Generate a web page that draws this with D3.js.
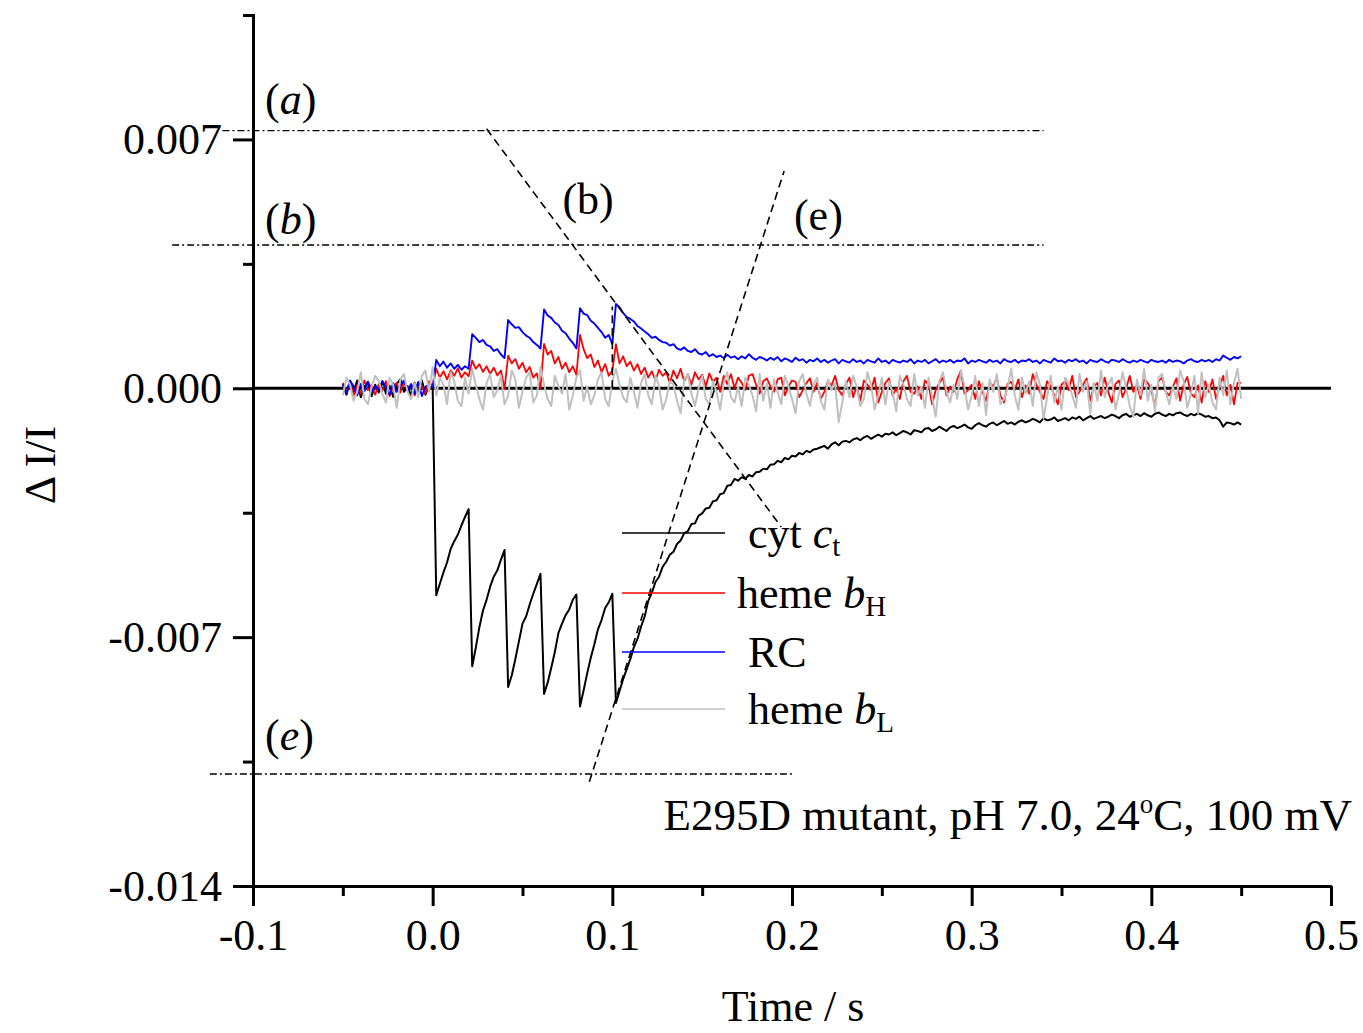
<!DOCTYPE html>
<html>
<head>
<meta charset="utf-8">
<script src="https://cdn.jsdelivr.net/npm/d3@7"></script>
<style>
  body { margin: 0; background: #fff; }
  svg { display: block; }
  text { font-family: "Liberation Serif", "Times New Roman", serif; }
</style>
</head>
<body>
<div id="chart"></div>
<script>
// Traces: time grid in ms, values in units of 1e-3 (ΔI/I)
const T0 = -50, DT = 2;

const cytC = [
  0.12, -0.18, 0.2, -0.08, 0.22, -0.25, 0.05, 0.18, -0.22, 0.1,
  -0.12, 0.2, -0.15, 0.08, -0.24, 0.12, 0.26, -0.1, 0.06, -0.2,
  0.16, -0.1, 0.22, -0.18, 0.1, 0.0, -5.82, -5.5, -5.18, -4.9,
  -4.52, -4.3, -4.12, -3.86, -3.62, -3.4, -7.82, -7.3, -6.72, -6.25,
  -5.95, -5.58, -5.3, -5.12, -4.82, -4.55, -8.4, -8.08, -7.62, -7.12,
  -6.62, -6.42, -6.08, -5.78, -5.5, -5.22, -8.6, -8.28, -7.86, -7.42,
  -6.88, -6.62, -6.38, -6.22, -5.95, -5.8, -8.95, -8.5, -8.02, -7.58,
  -7.2, -6.78, -6.52, -6.18, -6.02, -5.78, -8.85, -8.52, -8.18, -7.9,
  -7.62, -7.28, -7.05, -6.7, -6.42, -5.98, -5.75, -5.45, -5.3, -5.02,
  -4.88, -4.68, -4.6, -4.38, -4.28, -4.08, -4.02, -3.82, -3.8, -3.58,
  -3.52, -3.38, -3.36, -3.18, -3.15, -2.98, -2.95, -2.74, -2.72, -2.55,
  -2.6, -2.5, -2.55, -2.44, -2.48, -2.36, -2.35, -2.26, -2.28, -2.15,
  -2.14, -2.04, -2.08, -1.96, -2.0, -1.9, -1.92, -1.82, -1.86, -1.76,
  -1.8, -1.72, -1.7, -1.66, -1.62, -1.7, -1.58, -1.52, -1.6, -1.5,
  -1.48, -1.52, -1.44, -1.4, -1.46, -1.38, -1.34, -1.42, -1.36, -1.3,
  -1.36, -1.28, -1.3, -1.24, -1.32, -1.26, -1.2, -1.24, -1.3, -1.18,
  -1.2, -1.24, -1.14, -1.12, -1.2, -1.16, -1.08, -1.14, -1.2, -1.1,
  -1.06, -1.12, -1.08, -1.02, -1.1, -1.14, -1.04, -0.98, -1.04, -1.08,
  -1.0, -0.96, -1.04, -0.98, -0.92, -1.0, -0.96, -1.02, -0.94, -0.9,
  -0.96, -0.92, -0.86, -0.9, -0.96, -0.84, -0.9, -0.88, -0.82, -0.92,
  -0.88, -0.84, -0.9, -0.82, -0.86, -0.8, -0.9, -0.84, -0.78, -0.86,
  -0.82, -0.78, -0.84, -0.8, -0.74, -0.78, -0.84, -0.76, -0.72, -0.8,
  -0.76, -0.72, -0.78, -0.7, -0.76, -0.8, -0.72, -0.68, -0.74, -0.78,
  -0.72, -0.76, -0.7, -0.68, -0.74, -0.78, -0.72, -0.76, -0.7, -0.74,
  -0.8, -0.78, -0.84, -0.82, -0.9, -1.08, -0.96, -0.98, -1.02, -0.96,
  -1.02
];

const hemeBH = [
  0.15, -0.1, 0.2, -0.2, 0.08, -0.15, 0.22, -0.05, 0.1, -0.18,
  0.12, -0.08, 0.2, -0.22, 0.05, 0.15, -0.12, 0.18, -0.05, 0.1,
  -0.2, 0.12, 0.05, -0.15, 0.2, 0.05, 0.55, 0.3, 0.48, 0.25,
  0.5, 0.35, 0.56, 0.3, 0.45, 0.34, 0.78, 0.55, 0.68, 0.46,
  0.62, 0.4, 0.58, 0.36, 0.5, -0.02, 0.92, 0.7, 0.82, 0.55,
  0.72, 0.45, 0.6, 0.3, 0.42, 0.0, 1.25, 0.95, 1.05, 0.7,
  0.88, 0.55, 0.72, 0.45, 0.62, 0.38, 1.5, 1.1, 0.85, 0.95,
  0.6, 0.78, 0.45, 0.68, 0.35, 0.5, 1.24, 0.7, 0.9, 0.62,
  0.75, 0.5, 0.68, 0.4, 0.58, 0.3, 0.48, 0.22, 0.52, 0.35,
  0.45, 0.15, 0.5, 0.28, 0.55, 0.2, 0.4, 0.1, 0.45, 0.25,
  0.38, 0.05, 0.42, 0.18, 0.3, -0.1, 0.35, 0.12, 0.4, 0.0,
  0.3, 0.15, -0.05, 0.35, 0.4, 0.1, -0.15, 0.2, 0.28, 0.05,
  -0.1, 0.25, 0.3, -0.2, 0.05, 0.22, 0.18, -0.25, -0.05, 0.15,
  0.28, -0.1, 0.15, -0.3, -0.1, 0.2, 0.08, 0.35, -0.05, -0.2,
  0.12, 0.3, -0.25, 0.05, -0.35, 0.22, 0.1, -0.05, 0.3, -0.4,
  -0.1, 0.15, 0.28, -0.2, 0.0, -0.3, 0.2, 0.35, -0.1, -0.15,
  0.05, -0.3, 0.22, 0.1, -0.45, -0.05, 0.15, 0.3, -0.2, 0.05,
  -0.1, 0.25, 0.5, -0.15, -0.05, 0.1, -0.3, 0.2, -0.1, -0.35,
  0.15, 0.05, 0.3, -0.2, -0.4, 0.12, 0.18, -0.05, 0.25, -0.25,
  0.08, -0.15, 0.4, 0.1, -0.1, -0.3, 0.2, 0.05, -0.2, -0.45,
  0.1, 0.2, -0.05, 0.35, -0.25, -0.1, 0.1, 0.28, -0.35, 0.05,
  0.15, -0.2, 0.3, -0.1, -0.4, 0.12, 0.22, -0.25, 0.0, 0.35,
  -0.1, 0.1, -0.3, 0.25, 0.15, -0.05, -0.5, 0.2, 0.3, -0.1,
  -0.2, 0.05, 0.28, -0.35, 0.1, 0.32, -0.15, -0.25, 0.08, -0.4,
  0.2, -0.1, 0.25, -0.3, 0.05, 0.35, -0.2, 0.1, -0.45, 0.15,
  0.15
];

const rc = [
  0.1, -0.15, 0.22, 0.05, -0.2, 0.12, -0.08, 0.18, -0.12, 0.06,
  -0.05, 0.2, 0.02, -0.18, 0.15, -0.1, 0.08, 0.22, -0.06, 0.12,
  -0.15, 0.18, -0.22, 0.05, 0.1, 0.02, 0.8, 0.62, 0.75, 0.58,
  0.7, 0.55, 0.66, 0.52, 0.62, 0.55, 1.52, 1.42, 1.3, 1.36,
  1.22, 1.18, 1.05, 1.1, 0.95, 0.85, 1.92, 1.8, 1.7, 1.72,
  1.58, 1.48, 1.42, 1.3, 1.22, 1.12, 2.22, 2.05, 1.98, 1.85,
  1.78, 1.62, 1.55, 1.4, 1.28, 1.12, 2.25, 2.1, 2.06, 1.9,
  1.82, 1.7, 1.58, 1.42, 1.5, 1.24, 2.37, 2.28, 2.12, 2.0,
  1.95, 1.88, 1.75, 1.68, 1.6, 1.52, 1.42, 1.45, 1.36, 1.3,
  1.28, 1.2, 1.24, 1.12, 1.08, 1.15, 1.05, 1.02, 1.1, 0.98,
  0.95, 1.02, 0.9, 0.96, 0.88, 0.92, 0.85, 0.94, 0.86, 0.9,
  0.82, 0.9, 0.84, 0.96, 0.86, 0.8, 0.88, 0.84, 0.78, 0.86,
  0.8, 0.88, 0.76, 0.84, 0.8, 0.74, 0.86, 0.78, 0.82, 0.72,
  0.8, 0.76, 0.84, 0.74, 0.8, 0.72, 0.78, 0.82, 0.7, 0.8,
  0.76, 0.72, 0.82, 0.74, 0.78, 0.7, 0.8, 0.76, 0.72, 0.84,
  0.74, 0.78, 0.7, 0.8, 0.76, 0.72, 0.78, 0.74, 0.82, 0.7,
  0.78, 0.74, 0.8, 0.7, 0.76, 0.82, 0.72, 0.78, 0.74, 0.8,
  0.72, 0.78, 0.76, 0.84, 0.7, 0.78, 0.74, 0.8, 0.76, 0.72,
  0.8, 0.74, 0.78, 0.7, 0.82, 0.76, 0.74, 0.8, 0.72, 0.78,
  0.76, 0.82, 0.74, 0.78, 0.7, 0.8, 0.76, 0.72, 0.84, 0.76,
  0.78, 0.72, 0.8, 0.76, 0.82, 0.74, 0.78, 0.7, 0.8, 0.76,
  0.74, 0.82, 0.76, 0.72, 0.8, 0.78, 0.74, 0.82, 0.76, 0.72,
  0.78, 0.74, 0.8, 0.76, 0.72, 0.8, 0.76, 0.74, 0.78, 0.72,
  0.8, 0.74, 0.78, 0.76, 0.7, 0.78, 0.82, 0.76, 0.74, 0.8,
  0.76, 0.8, 0.74, 0.82, 0.78, 0.92, 0.86, 0.8, 0.88, 0.84,
  0.9
];

const hemeBL = [
  -0.2, 0.3, 0.1, -0.35, -0.1, 0.45, -0.3, -0.45, 0.05, 0.35,
  0.2, -0.15, -0.4, 0.3, 0.1, -0.55, 0.25, 0.4, -0.1, -0.3,
  0.15, -0.25, 0.35, 0.5, -0.1, 0.6, -0.2, 0.3, 0.1, -0.45,
  0.45, 0.2, -0.35, -0.5, 0.3, -0.15, 0.55, 0.1, -0.3, -0.6,
  0.15, 0.4, -0.25, -0.05, 0.35, -0.45, -0.2, 0.5, 0.25, -0.55,
  -0.1, 0.3, 0.45, -0.4, -0.2, 0.6, 0.1, -0.3, -0.5, 0.35,
  0.05, -0.15, 0.4, -0.6, -0.2, 0.3, 0.5, -0.35, 0.05, -0.45,
  -0.2, 0.25, 0.45, -0.3, -0.5, 0.2, 0.55, 0.1, -0.25, -0.4,
  0.3, -0.1, -0.55, 0.15, 0.4, -0.2, -0.45, 0.35, 0.05, -0.6,
  -0.3, 0.2, 0.1, -0.35, -0.7, 0.25, 0.4, -0.15, -0.5, 0.0,
  0.35, -0.3, -0.45, 0.2, -0.1, -0.6, 0.15, 0.45, -0.25, -0.4,
  0.05, -0.5, 0.3, 0.1, -0.2, -0.65, 0.4, -0.35, 0.15, -0.55,
  0.25, -0.1, -0.45, 0.35, 0.05, -0.3, -0.7, 0.2, 0.4, -0.15,
  -0.5, 0.1, 0.3, -0.35, -0.6, 0.25, -0.05, 0.15, -0.95, -0.4,
  0.2, -0.25, 0.35, 0.05, -0.5, -0.3, 0.45, 0.1, -0.6, -0.2,
  0.3, -0.45, 0.2, -0.1, -0.65, 0.35, 0.1, -0.3, -0.5, 0.4,
  -0.2, 0.05, -0.55, 0.3, -0.25, -0.8, 0.2, 0.45, -0.1, -0.4,
  0.1, -0.3, 0.5, 0.05, -0.6, -0.2, 0.35, -0.5, 0.15, -0.75,
  0.25, -0.1, 0.4, -0.45, -0.3, 0.0, 0.55, -0.2, -0.6, 0.3,
  -0.15, 0.2, -0.5, 0.45, 0.1, -0.85, -0.25, 0.35, -0.4, 0.05,
  -0.6, 0.3, 0.15, -0.2, -0.55, 0.4, -0.1, 0.2, -0.7, 0.15,
  -0.35, 0.5, -0.25, 0.1, 0.3, -0.6, -0.15, 0.45, 0.0, -0.5,
  -0.8, 0.25, -0.2, 0.55, -0.35, 0.1, -0.65, 0.3, 0.4, -0.1,
  -0.45, 0.05, -0.3, 0.5, 0.2, -0.55, -0.15, 0.35, -0.7, 0.45,
  -0.25, 0.1, -0.4, -0.6, 0.3, -0.2, 0.5, -0.45, 0.15, 0.55,
  -0.3
];

// Axis ticks
const xTicks = [-0.1, 0.0, 0.1, 0.2, 0.3, 0.4, 0.5];
const xMinor = [-0.05, 0.05, 0.15, 0.25, 0.35, 0.45];
const yTicks = [-0.014, -0.007, 0.0, 0.007];
const yMinor = [-0.0105, -0.0035, 0.0035];

// Guide levels (dash-dot): [label, level, t start, t end]
const levels = [
  ["a", 0.00725, -0.117, 0.34],
  ["b", 0.00403, -0.145, 0.34],
  ["e", -0.01085, -0.124, 0.20]
];
// Dashed fit lines: [t1, v1, t2, v2]
const fitB = [0.030, 0.0073, 0.194, -0.0039];
const fitE = [0.0872, -0.01107, 0.1956, 0.00611];
const flashMark = [0.1, 0.0, 0.1, 0.0023];

const series = [
  { name: "cyt", values: cytC, color: "#000000", width: 2 },
  { name: "bH", values: hemeBH, color: "#ff0000", width: 1.8 },
  { name: "RC", values: rc, color: "#0000ff", width: 1.9 },
  { name: "bL", values: hemeBL, color: "#c0c0c0", width: 2 }
];

const W = 1363, H = 1033;
const FONT = 44;

const svg = d3.select("#chart").append("svg")
  .attr("width", W).attr("height", H);

const x = d3.scaleLinear().domain([-0.1, 0.5]).range([253, 1331]);
const y = d3.scaleLinear().domain([-0.014, 0.0105]).range([886, 15]);

// zero reference line
svg.append("line")
  .attr("x1", x(-0.1)).attr("x2", x(0.5))
  .attr("y1", y(0)).attr("y2", y(0))
  .attr("stroke", "#000").attr("stroke-width", 3);

// traces
const line = d3.line()
  .x((d, i) => x((T0 + i * DT) / 1000))
  .y(d => y(d / 1000));

svg.append("g").selectAll("path")
  .data(series)
  .join("path")
  .attr("d", d => line(d.values))
  .attr("fill", "none")
  .attr("stroke", d => d.color)
  .attr("stroke-width", d => d.width)
  .attr("stroke-linejoin", "round");

// dash-dot levels
svg.append("g").selectAll("line")
  .data(levels)
  .join("line")
  .attr("x1", d => x(d[2])).attr("x2", d => x(d[3]))
  .attr("y1", d => y(d[1])).attr("y2", d => y(d[1]))
  .attr("stroke", "#000").attr("stroke-width", 1.3)
  .attr("stroke-dasharray", "7,3,2,3");

// dashed fit lines
svg.append("g").selectAll("line")
  .data([fitB, fitE, flashMark])
  .join("line")
  .attr("x1", d => x(d[0])).attr("y1", d => y(d[1]))
  .attr("x2", d => x(d[2])).attr("y2", d => y(d[3]))
  .attr("stroke", "#000").attr("stroke-width", 1.6)
  .attr("stroke-dasharray", "8,5");

// axes
function styleAxis(g) {
  g.attr("font-size", FONT).attr("font-family", "'Liberation Serif','Times New Roman',serif");
  g.selectAll("path.domain").attr("stroke-width", 3);
  g.selectAll(".tick line").attr("stroke-width", 3);
  g.selectAll(".tick text").attr("fill", "#000");
}

svg.append("g")
  .attr("transform", `translate(0,${y(-0.014)})`)
  .call(d3.axisBottom(x).tickValues(xMinor).tickSize(10).tickSizeOuter(0).tickFormat(""))
  .call(styleAxis);
svg.append("g")
  .attr("transform", `translate(0,${y(-0.014)})`)
  .call(d3.axisBottom(x).tickValues(xTicks).tickSize(20).tickSizeOuter(0).tickPadding(13)
    .tickFormat(d => d.toFixed(1)))
  .call(styleAxis);

svg.append("g")
  .attr("transform", `translate(${x(-0.1)},0)`)
  .call(d3.axisLeft(y).tickValues(yMinor).tickSize(10).tickSizeOuter(10).tickFormat(""))
  .call(styleAxis);
svg.append("g")
  .attr("transform", `translate(${x(-0.1)},0)`)
  .call(d3.axisLeft(y).tickValues(yTicks).tickSize(20).tickSizeOuter(0).tickPadding(11)
    .tickFormat(d => d.toFixed(3)))
  .call(styleAxis)
  .call(g => g.select("path.domain").remove());

// axis titles
svg.append("text")
  .attr("transform", "translate(55,465) rotate(-90)")
  .attr("text-anchor", "middle")
  .attr("font-size", FONT)
  .text("\u0394 I/I");

svg.append("text")
  .attr("x", 793).attr("y", 1021)
  .attr("text-anchor", "middle")
  .attr("font-size", FONT)
  .text("Time / s");

// level labels (italic letter in upright parens)
const italicLabels = [["a", -0.0933, 0.00772], ["b", -0.0933, 0.00434], ["e", -0.0933, -0.01018]];
italicLabels.forEach(([s, t, v]) => {
  const tx = svg.append("text")
    .attr("x", x(t)).attr("y", y(v))
    .attr("font-size", FONT);
  tx.append("tspan").text("(");
  tx.append("tspan").attr("font-style", "italic").text(s);
  tx.append("tspan").text(")");
});

const fitLabels = [["(b)", 0.0722, 0.0049], ["(e)", 0.2011, 0.00445]];
svg.append("g").selectAll("text")
  .data(fitLabels)
  .join("text")
  .attr("x", d => x(d[1])).attr("y", d => y(d[2]))
  .attr("font-size", FONT)
  .text(d => d[0]);

// legend
const legend = [
  { color: "#000000", y: 533, tx: 748, main: "cyt ", it: "c", sub: "t" },
  { color: "#ff0000", y: 593, tx: 737, main: "heme ", it: "b", sub: "H" },
  { color: "#0000ff", y: 652, tx: 748, main: "RC", it: "", sub: "" },
  { color: "#c0c0c0", y: 709, tx: 748, main: "heme ", it: "b", sub: "L" }
];
const lg = svg.append("g");
legend.forEach(d => {
  lg.append("line")
    .attr("x1", 622).attr("x2", 725)
    .attr("y1", d.y).attr("y2", d.y)
    .attr("stroke", d.color).attr("stroke-width", 1.6);
  const t = lg.append("text")
    .attr("x", d.tx).attr("y", d.y + 15)
    .attr("font-size", FONT);
  t.append("tspan").text(d.main);
  if (d.it) {
    t.append("tspan").attr("font-style", "italic").text(d.it);
    t.append("tspan").attr("font-size", 29).attr("dy", 8).text(d.sub);
  }
});

// condition note
const note = svg.append("text")
  .attr("x", 1352).attr("y", 830)
  .attr("text-anchor", "end")
  .attr("font-size", 45);
note.append("tspan").text("E295D mutant, pH 7.0, 24");
note.append("tspan").attr("font-size", 27).attr("dy", -17).text("o");
note.append("tspan").attr("dy", 17).text("C, 100 mV");
</script>
</body>
</html>
